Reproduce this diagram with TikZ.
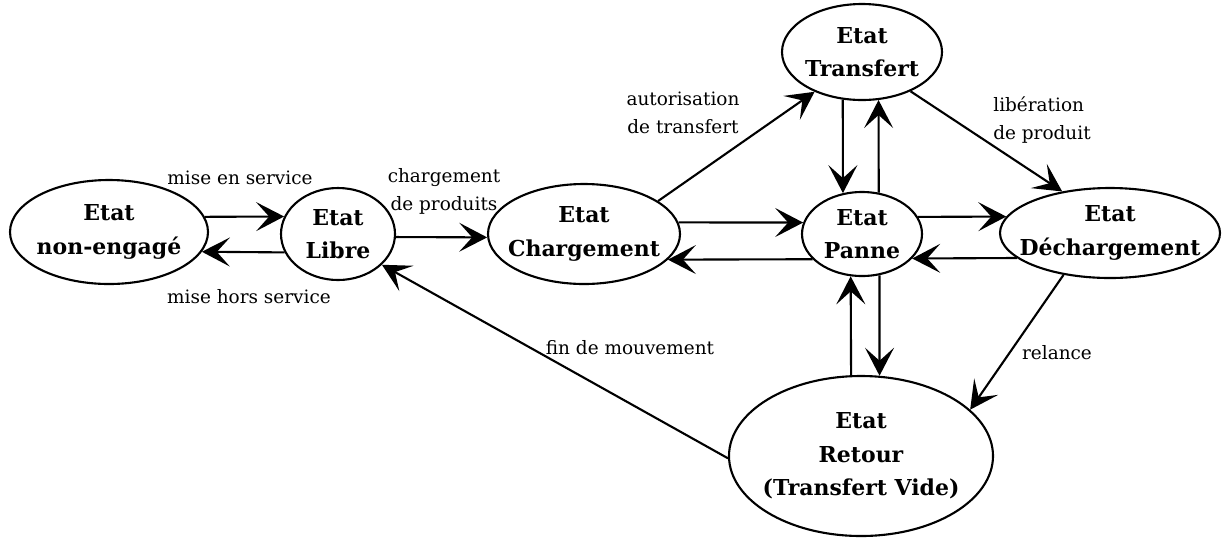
\documentclass[tikz,border=0pt]{standalone}
\usepackage{fontspec}
\setmainfont{DejaVu Serif}
\usetikzlibrary{arrows.meta, shapes.geometric}

\begin{document}
\begin{tikzpicture}[x=0.02cm, y=-0.02cm, line width=1.2pt,
      >={Stealth[length=0.56cm, width=0.58cm, inset=0.26cm]},
      every node/.style={font=\fontsize{10.5}{16}\selectfont},
      state/.style={ellipse, draw, inner sep=0pt},
      statetxt/.style={align=center, font=\fontsize{12.5}{19}\selectfont\bfseries}]
    \useasboundingbox (0,0) rectangle (1222,538);
    \foreach \n/\p/\w/\h/\t in {
        ne/{109,232}/198/104/{Etat\\non-engagé},
        lib/{338,234}/114/92/{Etat\\Libre},
        chg/{584,234}/192/100/{Etat\\Chargement},
        tra/{862,52}/160/96/{Etat\\Transfert},
        pan/{862,234}/120/84/{Etat\\Panne},
        dec/{1110,233}/220/90/{Etat\\Déchargement},
        ret/{861,456}/264/160/{Etat\\Retour\\(Transfert Vide)}}{
      \node[state, minimum width=\w*0.02cm, minimum height=\h*0.02cm]
        (\n) at (\p) {};
      \node[statetxt] (\n-t) at (\n) {\t};
    }
    \draw[->] (ne.9) -- (lib.162);
    \draw[->] (lib.-161) -- (ne.-12);
    \draw[->] (lib.-3) -- (chg.182);
    \draw[->] (chg.24) -- (tra.-140);
    \draw[->] (chg.7) -- (pan.169);
    \draw[->] (pan.-153) -- (chg.-17);
    \draw[->] (tra.-112) -- (pan.115);
    \draw[->] (pan.68) -- (tra.-71);
    \draw[->] (pan.17) -- (dec.171);
    \draw[->] (dec.-165) -- (pan.-26);
    \draw[->] (tra.-39) -- (dec.139);
    \draw[->] (pan.-67) -- (ret.77);
    \draw[->] (ret.97) -- (pan.-105);
    \draw[->] (dec.-138) -- (ret.23);
    \draw[->] (ret.181) -- (lib.-35);
    \node (mes) at (240,178) {mise en service};
    \node (mhs) at (249,297) {mise hors service};
    \node[align=center] (cdp) at (444,191) {chargement\\de produits};
    \node[align=center] (adt) at (683,113) {autorisation\\de transfert};
    \node[align=left] (ldp) at (1042,120) {libération\\de produit};
    \node (rel) at (1057,353) {relance};
    \node (fdm) at (630,348) {fin de mouvement};
  \end{tikzpicture}
\end{document}
